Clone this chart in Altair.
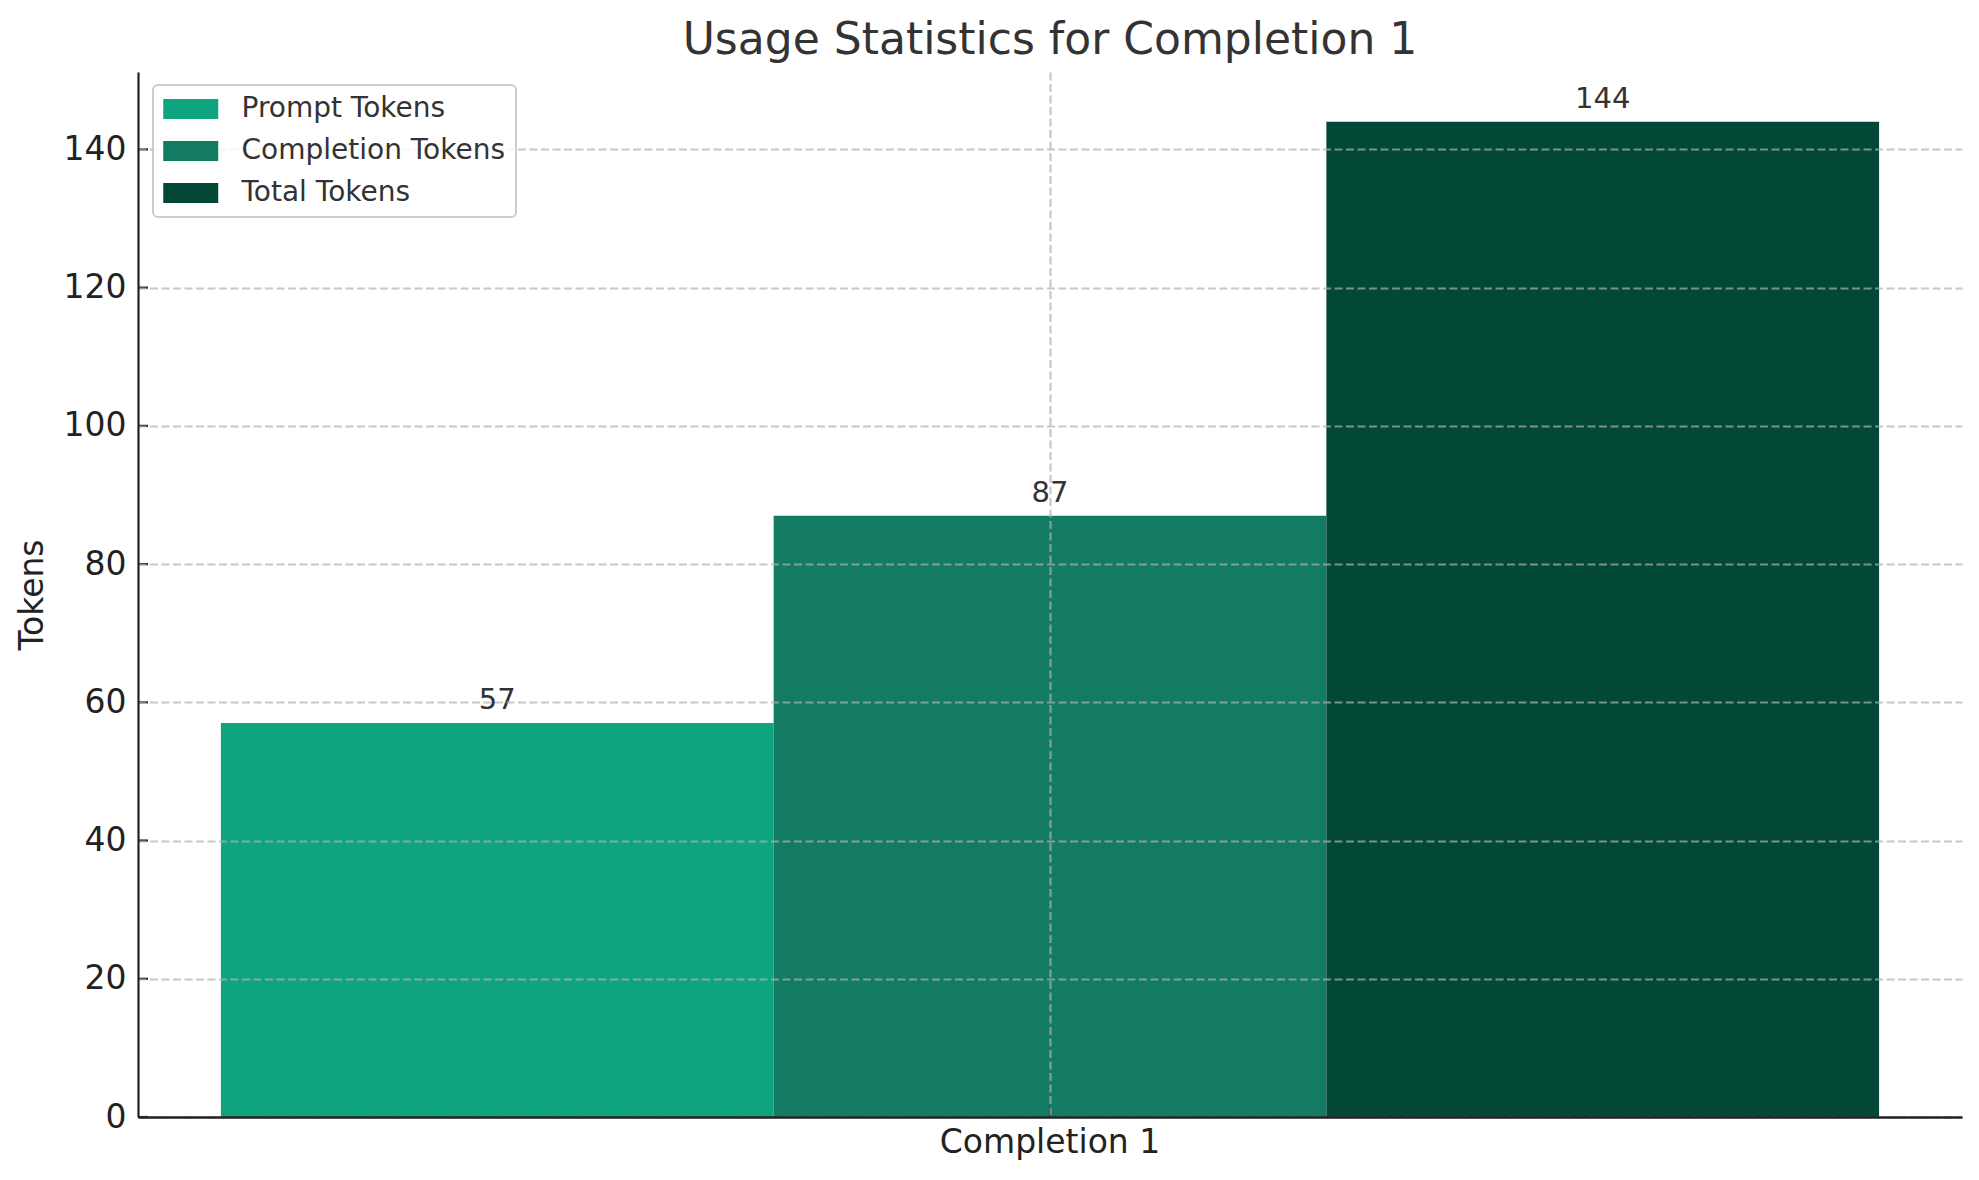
import altair as alt
import pandas as pd

category = "Completion 1"
series = ["Prompt Tokens", "Completion Tokens", "Total Tokens"]
values = [57, 87, 144]
colors = ["#10A37F", "#147B63", "#034836"]
y_ticks = [0, 20, 40, 60, 80, 100, 120, 140]
y_max = 151.2

df = pd.DataFrame({"category": [category] * len(series), "series": series, "value": values})
tick_df = pd.DataFrame({"v": y_ticks})
cat_df = pd.DataFrame({"category": [category]})

W, H = 1824, 1045
FONT = "DejaVu Sans"
grid_kw = dict(grid=True, gridDash=[8, 3.5], gridColor="#b0b0b0", gridOpacity=0.7, gridWidth=2.2)

x_scale = alt.Scale(paddingOuter=0.05, paddingInner=0)
y_scale = alt.Scale(domain=[0, y_max], nice=False, zero=True)

bars = alt.Chart(df).mark_bar().encode(
    x=alt.X("category:N", scale=x_scale, title=None,
            axis=alt.Axis(title=None, labelAngle=0, labelFontSize=33, labelColor="#222222",
                          labelFont=FONT, labelLimit=600, tickSize=0, labelPadding=9,
                          domainColor="#222222", domainWidth=2.4, zindex=1, **grid_kw)),
    xOffset=alt.XOffset("series:N", sort=series, scale=alt.Scale(paddingInner=0, paddingOuter=0)),
    y=alt.Y("value:Q", scale=y_scale, title="Tokens",
            axis=alt.Axis(values=y_ticks, title="Tokens", titleFontSize=33, titleFontWeight="normal",
                          titleColor="#222222", titleFont=FONT, titlePadding=14,
                          labelFontSize=33, labelColor="#222222", labelFont=FONT, tickSize=0,
                          labelPadding=12, domainColor="#222222", domainWidth=2.2, zindex=1,
                          **grid_kw)),
    color=alt.Color("series:N", sort=series, scale=alt.Scale(domain=series, range=colors),
                    legend=alt.Legend(title=None, orient="none", legendX=15, legendY=13,
                                      symbolType="M-2,-0.73L2,-0.73L2,0.73L-2,0.73Z",
                                      symbolSize=756, symbolOffset=13.75,
                                      symbolStrokeWidth=0, symbolOpacity=1,
                                      labelFontSize=28, labelColor="#333333", labelFont=FONT,
                                      labelOffset=36.75, labelLimit=600, zindex=2)),
)

labels = alt.Chart(df).mark_text(dy=-14, baseline="alphabetic", fontSize=29, color="#333333",
                                 font=FONT).encode(
    x=alt.X("category:N", scale=x_scale, title=None),
    xOffset=alt.XOffset("series:N", sort=series, scale=alt.Scale(paddingInner=0, paddingOuter=0)),
    y=alt.Y("value:Q", scale=y_scale, title="Tokens"),
    text=alt.Text("value:Q"),
)

y_tick_marks = alt.Chart(tick_df).mark_rule(color="#222222", strokeWidth=2.2).encode(
    y=alt.Y("v:Q", scale=y_scale, title="Tokens"),
    x=alt.value(0), x2=alt.value(10),
)

x_tick_mark = alt.Chart(cat_df).mark_rule(color="#222222", strokeWidth=2.2).encode(
    x=alt.X("category:N", scale=x_scale, title=None),
    y=alt.value(H), y2=alt.value(H - 10),
)

chart = alt.layer(bars, labels, y_tick_marks, x_tick_mark).properties(
    width=W, height=H,
    title=alt.TitleParams(text="Usage Statistics for Completion 1", fontSize=44, font=FONT,
                          fontWeight="normal", color="#333333", anchor="middle",
                          baseline="alphabetic", offset=18, dy=44),
    autosize=alt.AutoSizeParams(type="none"),
    padding={"left": 130, "top": 64, "right": 9, "bottom": 55},
).configure(font=FONT).configure_view(stroke=None).configure_legend(
    strokeColor="#cccccc", strokeWidth=2, cornerRadius=5, fillColor="rgba(255,255,255,0.8)",
    padding=10, rowPadding=14,
)

chart.save("out.html", embed_options={"renderer": "svg", "actions": False})
